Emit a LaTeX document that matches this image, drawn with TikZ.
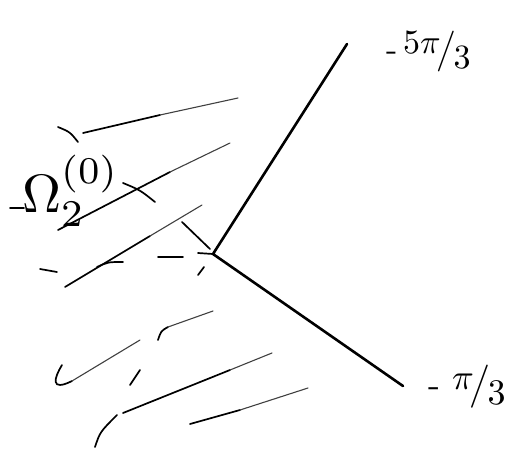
\documentclass[tikz,border=0pt]{standalone}
\usepackage{graphicx}
\usepackage{tikz}
\newcommand{\slfrac}[2]{\raisebox{0.45ex}{$#1$}\kern-0.12em\big/\kern-0.08em\raisebox{-0.55ex}{$#2$}}

\begin{document}
\begin{tikzpicture}[x=1pt,y=-1pt,
  ray/.style={line width=2.6pt,line cap=round,line join=round},
  hatch/.style={line width=1.7pt,line cap=round},
  thinhatch/.style={line width=1.1pt,line cap=round,black!75},
  lbl/.style={inner sep=0pt}]
\path[use as bounding box] (0,0) rectangle (517,450);
% the two rays
\coordinate (V) at (213,254);
\coordinate (A) at (347,44);
\coordinate (B) at (403,386);
\draw[ray] (A) -- (V) -- (B);
\node[lbl,anchor=west] (lblA) at (386,52) {\scalebox{3.4}{-\,\slfrac{5\pi}{3}}};
\node[lbl,anchor=west] (lblB) at (428,387) {\scalebox{3.6}{-\ \slfrac{\pi}{3}}};
% region label
\node[lbl,anchor=base west] (omega) at (22,212) {\scalebox{5.4}{$\Omega_2^{(0)}$}};
\draw[hatch] (10,208) -- (24,208);
% hatching
\draw[hatch] (58,127) .. controls (70,132) .. (78,142);
\draw[hatch] (83,133) -- (160,115);
\draw[thinhatch] (160,115) -- (238,98);
\draw[hatch] (58,230) -- (170,172);
\draw[thinhatch] (170,172) -- (230,143);
\draw[hatch] (123,183) .. controls (140,190) .. (155,202);
\draw[hatch] (65,287) -- (150,236);
\draw[thinhatch] (150,236) -- (202,205);
\draw[hatch] (97,267) .. controls (108,262) .. (123,262);
\draw[hatch] (40,269) -- (57,272);
\draw[hatch] (182,222) .. controls (196,235) .. (210,249);
\draw[hatch] (158,257) -- (183,257);
\draw[hatch] (198,253) -- (V);
\draw[hatch] (198,275) -- (204,267);
\draw[hatch] (158,340) .. controls (161,331) .. (168,327);
\draw[thinhatch] (168,327) -- (213,311);
\draw[hatch] (62,365) .. controls (54,378) and (50,392) .. (72,381);
\draw[thinhatch] (72,381) -- (140,340);
\draw[hatch] (130,385) -- (140,370);
\draw[hatch] (95,447) .. controls (100,432) .. (117,415);
\draw[hatch] (123,413) -- (230,370);
\draw[thinhatch] (230,370) -- (272,353);
\draw[hatch] (190,424) -- (240,410);
\draw[thinhatch] (240,410) -- (308,388);
\end{tikzpicture}
\end{document}
